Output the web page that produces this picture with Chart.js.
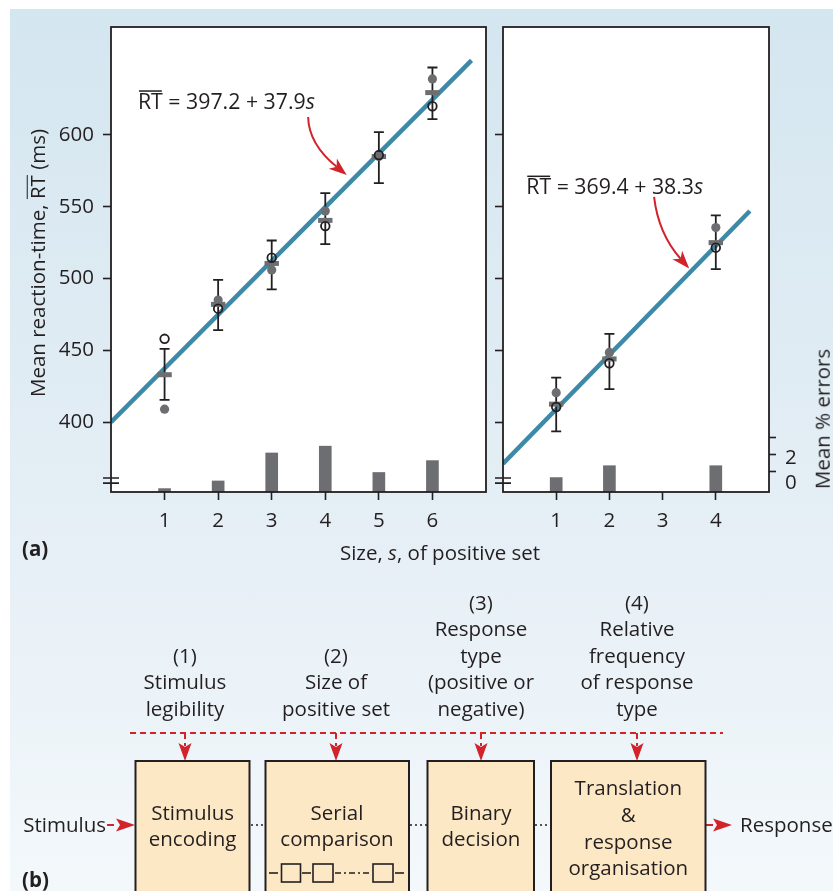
<!DOCTYPE html>
<html>
<head>
<meta charset="utf-8">
<title>Reaction time and set size</title>
<script src="https://cdn.jsdelivr.net/npm/chart.js@4.4.1/dist/chart.umd.min.js"></script>
<style>
  html, body { margin: 0; padding: 0; background: #fff; }
  #page { position: relative; width: 833px; height: 891px; overflow: hidden;
          font-family: 'Open Sans', sans-serif; color: #231f20; }
  #bg { position: absolute; left: 10px; top: 9px; right: 0; bottom: 0;
        background: linear-gradient(#d4e6f0, #e4eef5 55%, #f3f8fb); }
  .wrap { position: absolute; top: 0; height: 545px; }
  #wrapL { left: 0; width: 495px; }
  #wrapR { left: 495px; width: 338px; }
  .txt { position: absolute; font-size: 20.5px; line-height: 1; white-space: nowrap; }
  .rot { transform: translate(-50%, -50%) rotate(-90deg); }
  .mid { transform: translate(-50%, -50%); }
  .midy { transform: translateY(-50%); }
  .ov { display: inline-block; line-height: 0.9; border-top: 1.5px solid #231f20; }
  #diagram { position: absolute; left: 0; top: 0; }
</style>
</head>
<body>
<div id="page">
  <div id="bg"></div>
  <div class="wrap" id="wrapL"><canvas id="chartL"></canvas></div>
  <div class="wrap" id="wrapR"><canvas id="chartR"></canvas></div>

  <div class="txt rot" style="left:37px; top:263px;">Mean reaction-time, <span class="ov">RT</span> (ms)</div>
  <div class="txt rot" style="left:822px; top:419px;">Mean % errors</div>
  <div class="txt midy" style="left:22px; top:548px; font-weight:bold;">(a)</div>
  <div class="txt mid" style="left:440px; top:552px;">Size, <i>s</i>, of positive set</div>

  <svg id="diagram" width="833" height="891" font-family="Open Sans" font-size="20.5" fill="#231f20">
    <!-- factor labels -->
    <g text-anchor="middle">
      <text x="185" y="662.7">(1)</text>
      <text x="185" y="689.2">Stimulus</text>
      <text x="185" y="715.7">legibility</text>
      <text x="336" y="662.7">(2)</text>
      <text x="336" y="689.2">Size of</text>
      <text x="336" y="715.7">positive set</text>
      <text x="481" y="609.7">(3)</text>
      <text x="481" y="636.2">Response</text>
      <text x="481" y="662.7">type</text>
      <text x="481" y="689.2">(positive or</text>
      <text x="481" y="715.7">negative)</text>
      <text x="637" y="609.7">(4)</text>
      <text x="637" y="636.2">Relative</text>
      <text x="637" y="662.7">frequency</text>
      <text x="637" y="689.2">of response</text>
      <text x="637" y="715.7">type</text>
    </g>
    <!-- red dashed feed lines -->
    <g stroke="#d2232a" stroke-width="2" stroke-dasharray="6 4" fill="none">
      <line x1="130" y1="733" x2="723" y2="733"/>
      <line x1="185" y1="733" x2="185" y2="746"/>
      <line x1="336" y1="733" x2="336" y2="746"/>
      <line x1="481" y1="733" x2="481" y2="746"/>
      <line x1="637" y1="733" x2="637" y2="746"/>
      <line x1="107" y1="825" x2="114" y2="825" stroke-dasharray="none"/>
      <line x1="706" y1="825" x2="713" y2="825" stroke-dasharray="none"/>
    </g>
    <g fill="#d2232a">
      <path d="M185 761 L178.5 743 L185 747 L191.5 743 Z"/>
      <path d="M336 761 L329.5 743 L336 747 L342.5 743 Z"/>
      <path d="M481 761 L474.5 743 L481 747 L487.5 743 Z"/>
      <path d="M637 761 L630.5 743 L637 747 L643.5 743 Z"/>
      <path d="M135 825 L116 818.5 L120 825 L116 831.5 Z"/>
      <path d="M732 825 L713 818.5 L717 825 L713 831.5 Z"/>
    </g>
    <!-- stage boxes -->
    <g fill="#fde8c6" stroke="#231f20" stroke-width="2">
      <rect x="135.5" y="761" width="114" height="150"/>
      <rect x="265.5" y="761" width="143.5" height="150"/>
      <rect x="427.5" y="761" width="106.5" height="150"/>
      <rect x="551" y="761" width="154.5" height="150"/>
    </g>
    <g stroke="#231f20" stroke-width="1.6" stroke-dasharray="2 3">
      <line x1="251" y1="825" x2="265" y2="825"/>
      <line x1="410" y1="825" x2="427" y2="825"/>
      <line x1="535" y1="825" x2="551" y2="825"/>
    </g>
    <g stroke="#231f20" stroke-width="1.6" fill="none">
      <rect x="281.5" y="864" width="19" height="18"/>
      <rect x="313" y="864" width="20" height="18"/>
      <rect x="373" y="864" width="20" height="18"/>
      <line x1="269" y1="873" x2="278" y2="873"/>
      <line x1="302" y1="873" x2="311" y2="873"/>
      <line x1="335" y1="873" x2="371" y2="873" stroke-dasharray="6 3 2 3"/>
      <line x1="395" y1="873" x2="404" y2="873"/>
    </g>
    <g text-anchor="middle">
      <text x="192.6" y="819.7">Stimulus</text>
      <text x="192.6" y="846.3">encoding</text>
      <text x="337" y="819.7">Serial</text>
      <text x="337" y="846.3">comparison</text>
      <text x="481" y="819.7">Binary</text>
      <text x="481" y="846.3">decision</text>
      <text x="628.3" y="795.3">Translation</text>
      <text x="628.3" y="822">&amp;</text>
      <text x="628.3" y="848.7">response</text>
      <text x="628.3" y="875">organisation</text>
    </g>
    <text x="106" y="832" text-anchor="end">Stimulus</text>
    <text x="740" y="832">Response</text>
    <text x="22" y="887" font-weight="bold">(b)</text>
  </svg>
</div>

<script>
const INK = '#231f20';
const GREY = '#6d6e71';
const FIT = '#3d8aa8';
const RED = '#d2232a';

// shared axes
const yTicks = [400, 450, 500, 550, 600];
const rtRange = [351.3, 675.2];
const errRange = [0, 54.8];
const breakMarks = [361, 357.5];
const errTickVals = [2.4, 4.4, 6.4];
const errLabelVals = [1.1, 4.0];
const errLabelText = ['0', '2'];

// left panel, s = 1..6
const sizesL = [1, 2, 3, 4, 5, 6];
const xTicksL = [1, 2, 3, 4, 5, 6];
const meanL = [433, 482, 510.5, 540.5, 585, 629.5];
const posL = [409, 485, 506, 547, 585, 639];
const negL = [458, 479, 514.5, 536.5, 586, 620];
const hiL = [451, 499, 526.5, 559.5, 602, 647];
const loL = [415.5, 464, 492.5, 524, 566.5, 611];
const pctL = [0.4, 1.3, 4.6, 5.4, 2.3, 3.7];
const fitL = [[0, 400], [6.73, 652]];

// right panel, s = 1, 2, 4
const sizesR = [1, 2, 4];
const xTicksR = [1, 2, 3, 4];
const meanR = [412.5, 444, 525];
const posR = [420.5, 448.5, 535.5];
const negR = [410.5, 441, 521.5];
const hiR = [431, 461.5, 544];
const loR = [393.5, 423, 506.5];
const pctR = [1.7, 3.1, 3.1];
const fitR = [[0, 371], [4.64, 547]];

Chart.defaults.font.family = "'Open Sans', sans-serif";
Chart.defaults.color = INK;

function drawNote(chart, o) {
  const { ctx, scales: { x, y } } = chart;
  const fs = 21.3;
  const pt = (q) => ({ x: x.getPixelForValue(q[0]), y: y.getPixelForValue(q[1]) });
  let px = x.getPixelForValue(o.at[0]);
  const base = y.getPixelForValue(o.at[1]) + 0.36 * fs;
  ctx.save();
  ctx.fillStyle = INK;
  ctx.textBaseline = 'alphabetic';
  ctx.textAlign = 'left';
  o.parts.forEach(p => {
    ctx.font = (p.italic ? 'italic ' : '') + fs + "px 'Open Sans'";
    ctx.fillText(p.t, px, base);
    const w = ctx.measureText(p.t).width;
    if (p.over) ctx.fillRect(px + 1, base - 0.86 * fs, w - 2, 1.5);
    px += w;
  });
  // curved arrow
  const p0 = pt(o.from), c = pt(o.ctrl), p1 = pt(o.to);
  let dx = p1.x - c.x, dy = p1.y - c.y;
  const len = Math.hypot(dx, dy);
  dx /= len; dy /= len;
  const L = 18, W = 6.5;
  const back = { x: p1.x - dx * L * 0.72, y: p1.y - dy * L * 0.72 };
  ctx.strokeStyle = RED;
  ctx.fillStyle = RED;
  ctx.lineWidth = 2;
  ctx.beginPath();
  ctx.moveTo(p0.x, p0.y);
  ctx.quadraticCurveTo(c.x, c.y, back.x, back.y);
  ctx.stroke();
  ctx.beginPath();
  ctx.moveTo(p1.x, p1.y);
  ctx.lineTo(p1.x - dx * L - dy * W, p1.y - dy * L + dx * W);
  ctx.lineTo(back.x, back.y);
  ctx.lineTo(p1.x - dx * L + dy * W, p1.y - dy * L - dx * W);
  ctx.closePath();
  ctx.fill();
  ctx.restore();
}

const panelPlugin = {
  id: 'panel',
  beforeDraw(chart) {
    const { ctx, chartArea: a } = chart;
    ctx.save();
    ctx.fillStyle = '#fff';
    ctx.fillRect(a.left, a.top, a.width, a.height);
    ctx.restore();
  },
  afterDatasetDraw(chart, args, opts) {
    if (args.index !== 3) return;
    // error bars sit above the fit line, under the markers
    const { ctx, scales: { x, y } } = chart;
    ctx.save();
    ctx.strokeStyle = INK;
    ctx.lineWidth = 1.8;
    opts.sizes.forEach((s, i) => {
      const px = x.getPixelForValue(s);
      const t = y.getPixelForValue(opts.hi[i]);
      const b = y.getPixelForValue(opts.lo[i]);
      ctx.beginPath();
      ctx.moveTo(px, t); ctx.lineTo(px, b);
      ctx.moveTo(px - 5, t); ctx.lineTo(px + 5, t);
      ctx.moveTo(px - 5, b); ctx.lineTo(px + 5, b);
      ctx.stroke();
    });
    ctx.restore();
  },
  afterDraw(chart, args, opts) {
    const { ctx, chartArea: a, scales } = chart;
    ctx.save();
    ctx.strokeStyle = INK;
    ctx.lineWidth = 1.8;
    ctx.strokeRect(a.left, a.top, a.width, a.height);
    ctx.lineWidth = 1.6;
    ctx.beginPath();
    breakMarks.forEach(v => {
      const py = scales.y.getPixelForValue(v);
      ctx.moveTo(a.left - 8, py); ctx.lineTo(a.left + 8, py);
    });
    ctx.stroke();
    if (opts.errLabels) {
      ctx.fillStyle = INK;
      ctx.font = "20.5px 'Open Sans'";
      ctx.textBaseline = 'middle';
      ctx.textAlign = 'left';
      errLabelVals.forEach((v, i) => {
        ctx.fillText(errLabelText[i], a.right + 16, scales.yErr.getPixelForValue(v));
      });
    }
    ctx.restore();
    drawNote(chart, opts.note);
  }
};

function panel(id, p) {
  const pts = (ys) => p.sizes.map((s, i) => ({ x: s, y: ys[i] }));
  const tickGrid = { drawOnChartArea: false, drawTicks: true, tickLength: 8, tickColor: INK, tickWidth: 1.6, offset: false };
  const noPad = sc => { sc.paddingLeft = 0; sc.paddingRight = 0; sc.paddingTop = 0; sc.paddingBottom = 0; };
  return new Chart(document.getElementById(id), {
    type: 'scatter',
    data: {
      datasets: [
        { data: pts(p.neg), pointStyle: 'circle', pointRadius: 4.3, borderWidth: 1.8,
          borderColor: INK, backgroundColor: 'rgba(0,0,0,0)' },
        { data: pts(p.pos), pointStyle: 'circle', pointRadius: 4.6, borderWidth: 0,
          backgroundColor: GREY },
        { data: pts(p.mean), pointStyle: 'line', pointRadius: 7.2, borderWidth: 5,
          borderColor: GREY },
        { type: 'line', data: p.fit.map(q => ({ x: q[0], y: q[1] })), borderColor: FIT,
          borderWidth: 4.5, pointRadius: 0, tension: 0, fill: false },
        { type: 'bar', yAxisID: 'yErr', data: pts(p.pct), backgroundColor: GREY,
          barThickness: 12, grouped: false }
      ]
    },
    options: {
      responsive: true,
      maintainAspectRatio: false,
      animation: false,
      events: [],
      layout: { autoPadding: false, padding: { top: 27, right: p.padRight, left: 0, bottom: 0 } },
      plugins: {
        legend: { display: false },
        tooltip: { enabled: false },
        panel: { sizes: p.sizes, hi: p.hi, lo: p.lo, note: p.note, errLabels: p.errAxis }
      },
      scales: {
        x: {
          type: 'linear', min: 0, max: p.xMax, offset: false,
          afterBuildTicks: sc => { sc.ticks = p.xTicks.map(v => ({ value: v })); },
          afterFit: sc => { sc.height = 53; noPad(sc); },
          grid: tickGrid,
          border: { display: false },
          ticks: { font: { size: 20.5 }, color: INK, padding: 9 }
        },
        y: {
          type: 'linear', position: 'left', min: rtRange[0], max: rtRange[1],
          afterBuildTicks: sc => { sc.ticks = yTicks.map(v => ({ value: v })); },
          afterFit: sc => { sc.width = p.yWidth; noPad(sc); },
          grid: tickGrid,
          border: { display: false },
          ticks: { display: p.yLabels, font: { size: 20.5 }, color: INK, padding: 9 }
        },
        yErr: {
          type: 'linear', position: 'right', min: errRange[0], max: errRange[1],
          display: p.errAxis,
          afterBuildTicks: sc => { sc.ticks = errTickVals.map(v => ({ value: v })); },
          afterFit: sc => { sc.width = p.errAxis ? 64 : 0; noPad(sc); },
          grid: { drawOnChartArea: false, drawTicks: true, tickLength: 7, tickColor: INK, tickWidth: 1.6 },
          border: { display: false },
          ticks: { display: false }
        }
      }
    },
    plugins: [panelPlugin]
  });
}

panel('chartL', {
  sizes: sizesL, xTicks: xTicksL, xMax: 7, mean: meanL, pos: posL, neg: negL,
  hi: hiL, lo: loL, pct: pctL, fit: fitL,
  yWidth: 111, yLabels: true, errAxis: false, padRight: 9,
  note: {
    at: [0.503, 623.7],
    parts: [{ t: 'RT', over: true }, { t: ' = 397.2 + 37.9' }, { t: 's', italic: true }],
    from: [3.68, 612.5], ctrl: [3.69, 593.7], to: [4.40, 572.1]
  }
});

panel('chartR', {
  sizes: sizesR, xTicks: xTicksR, xMax: 5, mean: meanR, pos: posR, neg: negR,
  hi: hiR, lo: loR, pct: pctR, fit: fitR,
  yWidth: 8, yLabels: false, errAxis: true, padRight: 0,
  note: {
    at: [0.437, 564.3],
    parts: [{ t: 'RT', over: true }, { t: ' = 369.4 + 38.3' }, { t: 's', italic: true }],
    from: [2.84, 556.9], ctrl: [2.92, 531.3], to: [3.50, 507.0]
  }
});
</script>
</body>
</html>
